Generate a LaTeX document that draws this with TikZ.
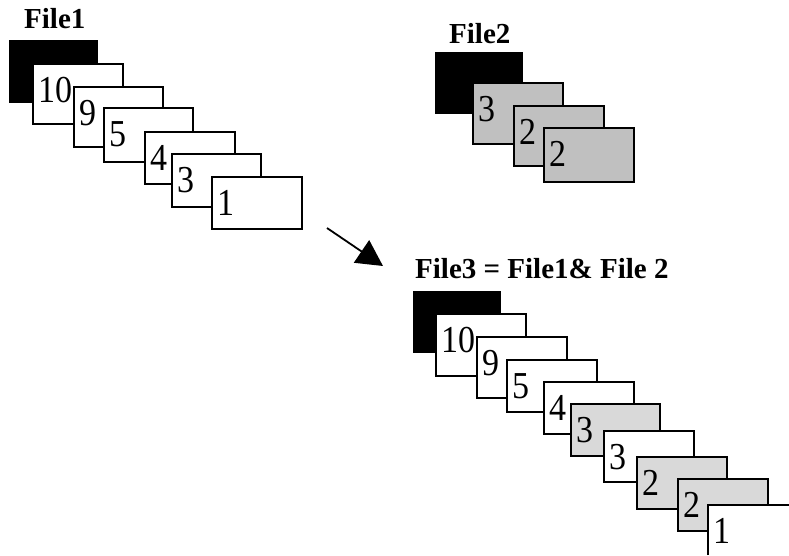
\documentclass[tikz,border=0pt]{standalone}
\usepackage{fontspec}
\setmainfont{Liberation Serif}
\usetikzlibrary{arrows.meta}
\definecolor{greyA}{HTML}{C0C0C0}
\definecolor{greyB}{HTML}{D9D9D9}
\tikzset{
  card/.style={draw=black, line width=1.3pt, fill=#1},
  card/.default=white,
  blk/.style={fill=black},
  num/.style={anchor=base west, inner sep=0pt, font=\fontsize{34}{34}\selectfont},
  title/.style={anchor=base west, inner sep=0pt, font=\bfseries\fontsize{29}{29}\selectfont},
}
% \cardbox{name}{x1}{y1}{x2}{y2}{fill}{label}
\newcommand\cardbox[7]{%
  \draw[card=#6] (#2,#3) rectangle (#4,#5);
  \node[num] (#1) at (#2+5,#3+38) {\scalebox{1}[1.12]{#7}};
}
\begin{document}
\begin{tikzpicture}[x=1pt,y=-1pt]
\useasboundingbox (0,0) rectangle (789,555);
% File1
\node[title] (t1) at (24,28) {File1};
\fill[blk] (9,40) rectangle (98,103);
\cardbox{a10}{33}{64}{123}{124}{white}{10}
\cardbox{a9}{74}{87}{163}{147}{white}{9}
\cardbox{a5}{104}{108}{193}{162}{white}{5}
\cardbox{a4}{145}{132}{235}{184}{white}{4}
\cardbox{a3}{172}{154}{261}{207}{white}{3}
\cardbox{a1}{212}{177}{302}{229}{white}{1}
% File2
\node[title] (t2) at (449,43) {File2};
\fill[blk] (435,52) rectangle (523,114);
\cardbox{b3}{473}{83}{563}{144}{greyA}{3}
\cardbox{b2}{514}{106}{604}{166}{greyA}{2}
\cardbox{b2b}{544}{128}{634}{182}{greyA}{2}
% arrow
\coordinate (as) at (327,228);
\coordinate (ae) at (383,266);
\draw[line width=1.8pt, -{Triangle[length=26pt,width=27pt]}] (as) -- (ae);
% File3
\node[title] (t3) at (415,278) {File3 = File1\& File 2};
\fill[blk] (413,291) rectangle (501,353);
\cardbox{c10}{436}{314}{526}{376}{white}{10}
\cardbox{c9}{477}{337}{567}{398}{white}{9}
\cardbox{c5}{507}{360}{597}{412}{white}{5}
\cardbox{c4}{544}{382}{634}{434}{white}{4}
\cardbox{c3g}{571}{404}{660}{456}{greyB}{3}
\cardbox{c3}{604}{431}{694}{482}{white}{3}
\cardbox{c2g}{637}{457}{727}{509}{greyB}{2}
\cardbox{c2gb}{678}{479}{768}{531}{greyB}{2}
\fill[white] (708,505) rectangle (789,555);
\draw[line width=1.3pt] (708,555) -- (708,505) -- (789,505);
\node[num] (c1) at (713,543) {\scalebox{1}[1.12]{1}};
\end{tikzpicture}
\end{document}
